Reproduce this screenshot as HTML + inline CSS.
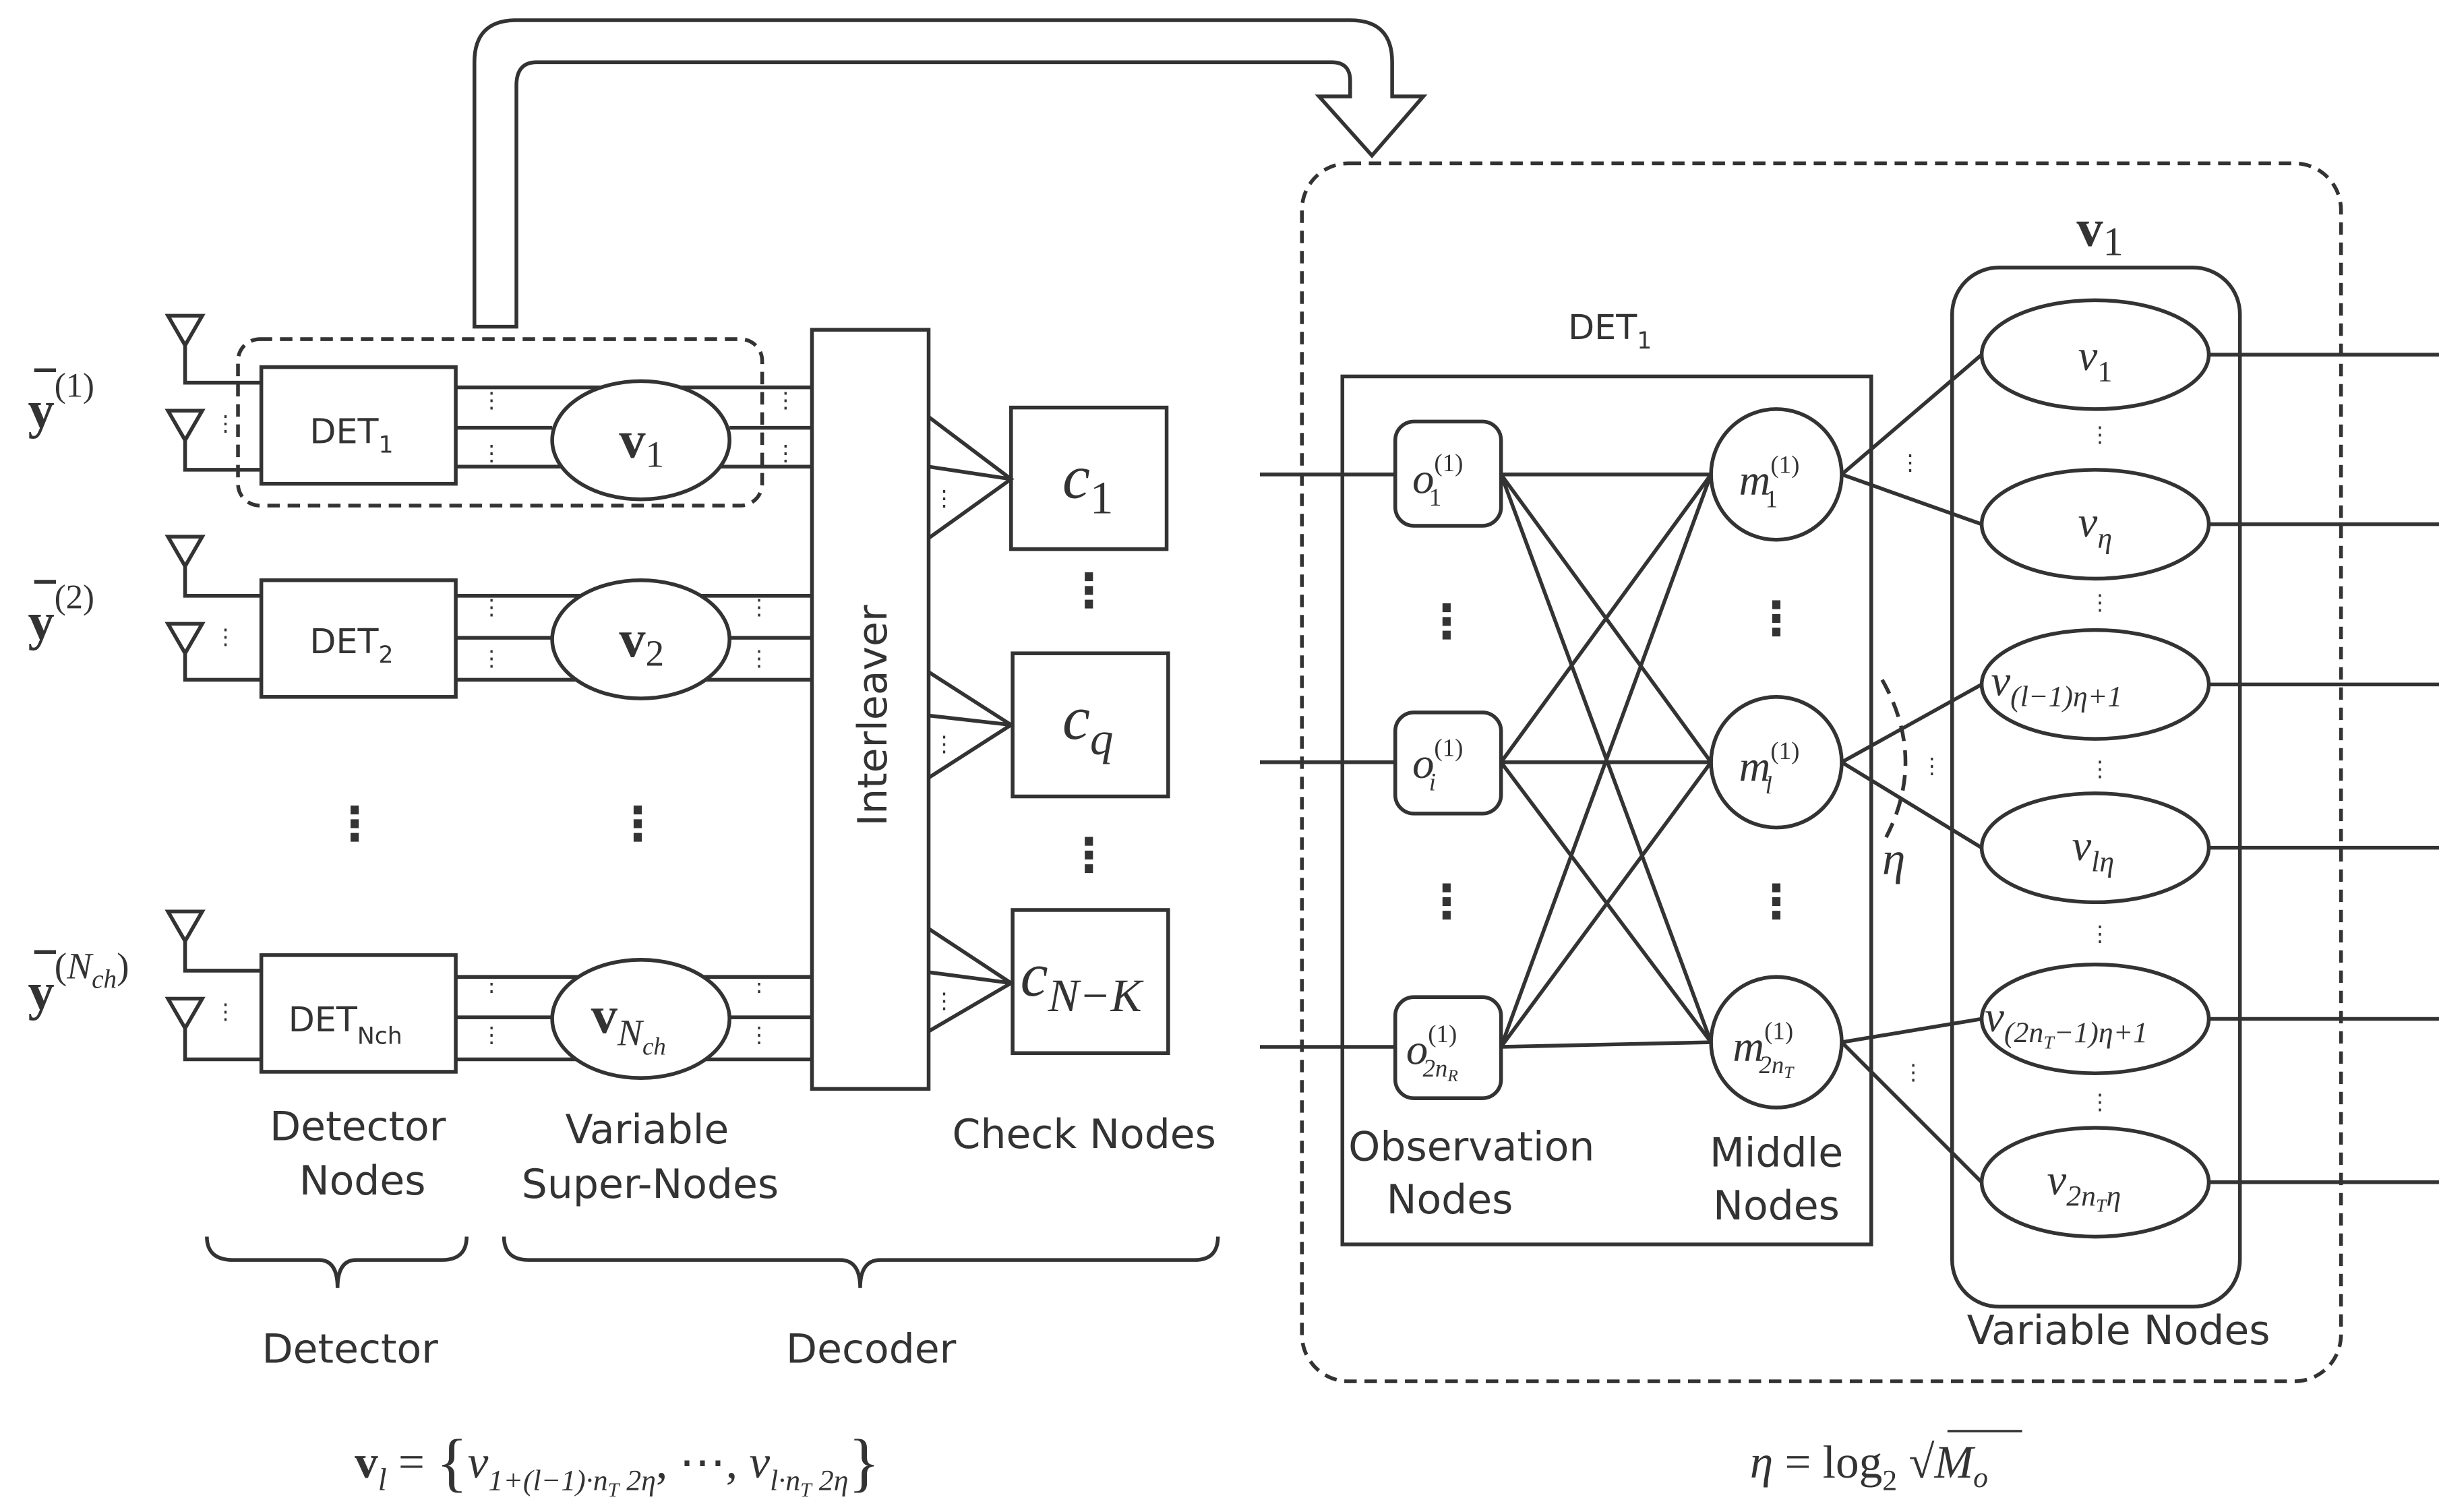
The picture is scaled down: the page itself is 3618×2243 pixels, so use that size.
<!DOCTYPE html>
<html><head><meta charset="utf-8"><style>html,body{margin:0;padding:0;background:#fff}svg{display:block}
.s{font-family:"DejaVu Sans","Liberation Sans",sans-serif;fill:#333}
.m{font-family:"Liberation Serif",serif;fill:#333;font-style:italic}
.r{font-family:"Liberation Serif",serif;fill:#333;font-style:normal}
.b{font-family:"Liberation Serif",serif;fill:#333;font-weight:bold}
</style></head><body>
<svg width="3618" height="2243" viewBox="0 0 1568 972" preserveAspectRatio="none" xmlns="http://www.w3.org/2000/svg">
<g fill="none" stroke="#333" stroke-width="2.4">
<path fill="#fff" d="M305,210 L305,40 Q305,13 332,13 L868,13 Q895,13 895,40 L895,62 L915,62 L882,100 L848,62 L868,62 L868,52 Q868,40 856,40 L345,40 Q332,40 332,55 L332,210 Z"/>
<rect x="153" y="218" width="337" height="107" rx="14" stroke-dasharray="8,5"/>
<rect x="837" y="105" width="668" height="783" rx="30" stroke-dasharray="8,5"/>
<g>
<path d="M108,203 L130,203 L119,222 Z M119,222 V246 H168"/>
<path d="M108,264 L130,264 L119,283 Z M119,283 V302 H168"/>
<rect x="168" y="236" width="125" height="75"/>
<path d="M293,249 H522 M293,275 H355 M469,275 H522 M293,300 H522"/>
</g>
<ellipse cx="412" cy="283" rx="57" ry="38" fill="#fff"/>
<g transform="translate(0,137)">
<path d="M108,208 L130,208 L119,227 Z M119,227 V246 H168"/>
<path d="M108,264 L130,264 L119,283 Z M119,283 V300 H168"/>
<rect x="168" y="236" width="125" height="75"/>
<path d="M293,246 H522 M293,273 H355 M469,273 H522 M293,300 H522"/>
</g>
<ellipse cx="412" cy="411" rx="57" ry="38" fill="#fff"/>
<g transform="translate(0,378)">
<path d="M108,208 L130,208 L119,227 Z M119,227 V246 H168"/>
<path d="M108,264 L130,264 L119,283 Z M119,283 V303 H168"/>
<rect x="168" y="236" width="125" height="75"/>
<path d="M293,250 H522 M293,276 H355 M469,276 H522 M293,303 H522"/>
</g>
<ellipse cx="412" cy="655" rx="57" ry="38" fill="#fff"/>
<rect x="522" y="212" width="75" height="488" fill="#fff"/>
<path d="M597,268 L650,308 L597,346 M597,300 L650,308"/>
<rect x="650" y="262" width="100" height="91"/>
<path d="M597,432 L650,466 L597,500 M597,460 L650,466"/>
<rect x="651" y="420" width="100" height="92"/>
<path d="M597,597 L650,632 L597,663 M597,625 L650,632"/>
<rect x="651" y="585" width="100" height="92"/>
<path d="M133,795 Q133,810 150,810 L205,810 Q217,810 217,828 Q217,810 229,810 L284,810 Q300,810 300,795"/>
<path d="M324,795 Q324,810 340,810 L540,810 Q553,810 553,828 Q553,810 566,810 L768,810 Q783,810 783,795"/>
<rect x="863" y="242" width="340" height="558"/>
<path d="M810,305 H897 M810,490 H897 M810,673 H897"/>
<rect x="897" y="271" width="68" height="67" rx="12"/>
<rect x="897" y="458" width="68" height="65" rx="12"/>
<rect x="897" y="641" width="68" height="65" rx="12"/>
<path d="M965,305 L1100,305 M965,305 L1100,490 M965,305 L1100,670
M965,490 L1100,305 M965,490 L1100,490 M965,490 L1100,670
M965,673 L1100,305 M965,673 L1100,490 M965,673 L1100,670"/>
<circle cx="1142" cy="305" r="42" fill="#fff"/>
<circle cx="1142" cy="490" r="42" fill="#fff"/>
<circle cx="1142" cy="670" r="42" fill="#fff"/>
<rect x="1255" y="172" width="185" height="668" rx="30"/>
<path d="M1184,305 L1274,228 M1184,305 L1274,337 M1184,490 L1274,440 M1184,490 L1274,545 M1184,670 L1274,655 M1184,670 L1274,760"/>
<path d="M1210,437 Q1240,490 1210,543" stroke-dasharray="10,6"/>
<path d="M1420,228 H1568 M1420,337 H1568 M1420,440 H1568 M1420,545 H1568 M1420,655 H1568 M1420,760 H1568"/>
<ellipse cx="1347" cy="228" rx="73" ry="35" fill="#fff"/>
<ellipse cx="1347" cy="337" rx="73" ry="35" fill="#fff"/>
<ellipse cx="1347" cy="440" rx="73" ry="35" fill="#fff"/>
<ellipse cx="1347" cy="545" rx="73" ry="35" fill="#fff"/>
<ellipse cx="1347" cy="655" rx="73" ry="35" fill="#fff"/>
<ellipse cx="1347" cy="760" rx="73" ry="35" fill="#fff"/>
<path d="M22,238 H36 M22,374 H36 M22,612 H36"/>
</g>
<g class="s" font-size="14" text-anchor="middle">
<text x="145" y="277">⋮</text><text x="316" y="262">⋮</text><text x="316" y="296">⋮</text><text x="505" y="262">⋮</text><text x="505" y="296">⋮</text>
<text x="145" y="414">⋮</text><text x="316" y="395">⋮</text><text x="316" y="428">⋮</text><text x="488" y="395">⋮</text><text x="488" y="428">⋮</text>
<text x="145" y="655">⋮</text><text x="316" y="637">⋮</text><text x="316" y="670">⋮</text><text x="488" y="637">⋮</text><text x="488" y="670">⋮</text>
<text x="607" y="325">⋮</text><text x="607" y="483">⋮</text><text x="607" y="648">⋮</text>
<text x="1228" y="302">⋮</text><text x="1242" y="497">⋮</text><text x="1230" y="694">⋮</text>
<text x="1350" y="284">⋮</text><text x="1350" y="392">⋮</text><text x="1350" y="499">⋮</text><text x="1350" y="605">⋮</text><text x="1350" y="713">⋮</text>
</g>
<g class="s" font-size="30" text-anchor="middle" font-weight="bold">
<text x="228" y="540">⋮</text><text x="410" y="540">⋮</text><text x="700" y="390">⋮</text><text x="700" y="560">⋮</text>
<text x="930" y="410">⋮</text><text x="930" y="590">⋮</text><text x="1142" y="408">⋮</text><text x="1142" y="590">⋮</text>
</g>
<g class="s" font-size="22" text-anchor="middle">
<text x="226" y="285">DET<tspan font-size="15" dy="6">1</tspan></text>
<text x="226" y="420">DET<tspan font-size="15" dy="6">2</tspan></text>
<text x="222" y="663">DET<tspan font-size="15" dy="8">N</tspan><tspan font-size="15">ch</tspan></text>
<text x="1035" y="218">DET<tspan font-size="15" dy="6">1</tspan></text>
</g>
<text class="s" font-size="26" transform="translate(570,460) rotate(-90)" text-anchor="middle">Interleaver</text>
<g class="s" font-size="26" text-anchor="middle">
<text x="230" y="733">Detector</text><text x="233" y="768">Nodes</text>
<text x="416" y="735">Variable</text><text x="418" y="770">Super-Nodes</text>
<text x="697" y="738">Check Nodes</text>
<text x="225" y="876">Detector</text><text x="560" y="876">Decoder</text>
<text x="946" y="746">Observation</text><text x="932" y="780">Nodes</text>
<text x="1142" y="750">Middle</text><text x="1142" y="784">Nodes</text>
<text x="1362" y="864">Variable Nodes</text>
</g>
<g font-size="34">
<text class="b" x="18" y="275">y<tspan class="r" font-weight="normal" font-size="22" dy="-20">(1)</tspan></text>
<text class="b" x="18" y="411">y<tspan class="r" font-weight="normal" font-size="22" dy="-20">(2)</tspan></text>
<text class="b" x="18" y="649">y<tspan class="r" font-weight="normal" font-size="24" dy="-20">(</tspan><tspan class="m" font-weight="normal" font-size="24">N</tspan><tspan class="m" font-weight="normal" font-size="17" dy="6">ch</tspan><tspan class="r" font-weight="normal" font-size="24" dy="-6">)</tspan></text>
<text class="b" x="398" y="294">v<tspan class="r" font-weight="normal" font-size="24" dy="6">1</tspan></text>
<text class="b" x="398" y="422">v<tspan class="r" font-weight="normal" font-size="24" dy="6">2</tspan></text>
<text class="b" x="380" y="664">v<tspan class="m" font-weight="normal" font-size="24" dy="8">N</tspan><tspan class="m" font-weight="normal" font-size="16" dy="6">ch</tspan></text>
<text class="b" x="1335" y="158">v<tspan class="r" font-weight="normal" font-size="26" dy="6">1</tspan></text>
</g>
<g class="m" font-size="40">
<text x="683" y="320">c<tspan class="r" font-size="30" dy="10">1</tspan></text>
<text x="683" y="475">c<tspan font-size="30" dy="10">q</tspan></text>
<text x="656" y="640">c<tspan font-size="30" dy="10">N−K</tspan></text>
</g>
<g class="m" font-size="28">
<text x="908" y="317">o<tspan class="r" font-size="16" dy="-14">(1)</tspan><tspan class="r" font-size="16" dx="-22" dy="22">1</tspan></text>
<text x="908" y="500">o<tspan class="r" font-size="16" dy="-14">(1)</tspan><tspan font-size="16" dx="-22" dy="22">i</tspan></text>
<text x="904" y="684">o<tspan class="r" font-size="16" dy="-14">(1)</tspan><tspan font-size="16" dx="-22" dy="22">2n</tspan><tspan font-size="11" dy="3">R</tspan></text>
<text x="1118" y="318">m<tspan class="r" font-size="16" dy="-14">(1)</tspan><tspan class="r" font-size="16" dx="-22" dy="22">1</tspan></text>
<text x="1118" y="502">m<tspan class="r" font-size="16" dy="-14">(1)</tspan><tspan font-size="16" dx="-22" dy="22">l</tspan></text>
<text x="1114" y="682">m<tspan class="r" font-size="16" dy="-14">(1)</tspan><tspan font-size="16" dx="-22" dy="22">2n</tspan><tspan font-size="11" dy="3">T</tspan></text>
<text x="1336" y="238">v<tspan class="r" font-size="19" dy="7">1</tspan></text>
<text x="1336" y="345">v<tspan font-size="19" dy="7">η</tspan></text>
<text x="1280" y="447">v<tspan font-size="19" dy="7">(l−1)η+1</tspan></text>
<text x="1332" y="553">v<tspan font-size="19" dy="7">lη</tspan></text>
<text x="1276" y="663">v<tspan font-size="19" dy="7">(2n</tspan><tspan font-size="12" dy="4">T</tspan><tspan font-size="19" dy="-4">−1)η+1</tspan></text>
<text x="1316" y="768">v<tspan font-size="19" dy="7">2n</tspan><tspan font-size="12" dy="4">T</tspan><tspan font-size="19" dy="-4">η</tspan></text>
<text x="1210" y="562" font-size="30">η</text>
</g>
<g font-size="30">
<text x="228" y="950" class="b">v<tspan class="m" font-weight="normal" font-size="20" dy="8">l</tspan><tspan class="r" font-weight="normal" dy="-8"> = </tspan><tspan class="r" font-weight="normal" font-size="42" dy="4">{</tspan><tspan class="m" font-weight="normal" dy="-4">v</tspan><tspan class="m" font-weight="normal" font-size="19" dy="8">1+(l−1)·n</tspan><tspan class="m" font-weight="normal" font-size="13" dy="4">T</tspan><tspan class="m" font-weight="normal" font-size="19" dy="-4"> 2η</tspan><tspan class="r" font-weight="normal" dy="-8">, ⋯, </tspan><tspan class="m" font-weight="normal">v</tspan><tspan class="m" font-weight="normal" font-size="19" dy="8">l·n</tspan><tspan class="m" font-weight="normal" font-size="13" dy="4">T</tspan><tspan class="m" font-weight="normal" font-size="19" dy="-4"> 2η</tspan><tspan class="r" font-weight="normal" font-size="42" dy="-4">}</tspan></text>
<text x="1125" y="950" class="m">η <tspan class="r">= log</tspan><tspan class="r" font-size="19" dy="8">2</tspan><tspan class="r" dy="-8"> √</tspan><tspan>M</tspan><tspan font-size="19" dy="6">o</tspan></text>
</g>
<path d="M1252,920 H1300" stroke="#333" stroke-width="1.5"/>
</svg>
</body></html>
